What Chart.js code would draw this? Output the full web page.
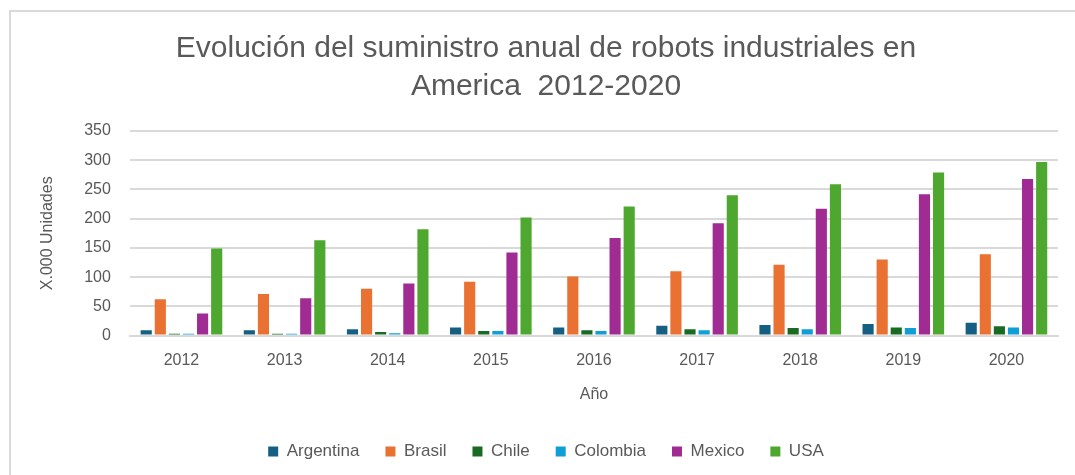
<!DOCTYPE html>
<html>
<head>
<meta charset="utf-8">
<script src="https://cdn.jsdelivr.net/npm/chart.js@4/dist/chart.umd.min.js"></script>
<style>
  html, body { margin: 0; padding: 0; background: #fff; }
  #wrap { position: relative; width: 1075px; height: 475px; }
  #frame { position: absolute; left: 9px; top: 10px; width: 1080px; height: 480px;
           border-left: 2px solid #d9d9d9; border-top: 2px solid #d9d9d9; }
  canvas { position: absolute; left: 0; top: 0; }
</style>
</head>
<body>
<div id="wrap">
  <div id="frame"></div>
  <canvas id="chart" width="1075" height="475"></canvas>
</div>
<script>
// ----------------- Data -----------------
const years = ['2012', '2013', '2014', '2015', '2016', '2017', '2018', '2019', '2020'];
const argentina = [9, 9, 11, 14, 14, 17, 18, 20, 22];
const brasil = [62, 71, 80, 92, 101, 110, 121, 130, 139];
const chile = [3, 3, 6, 8, 9, 11, 13, 14, 16];
const colombia = [3, 3, 4, 8, 8, 9, 11, 13, 14];
const mexico = [38, 64, 89, 142, 167, 192, 217, 242, 268];
const usa = [149, 163, 182, 202, 221, 240, 259, 279, 297];
const yTicks = [0, 50, 100, 150, 200, 250, 300, 350];

const grey = '#595959';
const font = "'Liberation Sans', Arial, sans-serif";

function series(label, data, color) {
  return {
    label, data,
    backgroundColor: color,
    borderWidth: 0,
    barPercentage: 0.79,
    categoryPercentage: 0.82
  };
}

// ----------------- Chart -----------------
const ctx = document.getElementById('chart').getContext('2d');
new Chart(ctx, {
  type: 'bar',
  data: {
    labels: years,
    datasets: [
      series('Argentina', argentina, '#156082'),
      series('Brasil', brasil, '#e97132'),
      series('Chile', chile, '#196b24'),
      series('Colombia', colombia, '#0f9ed5'),
      series('Mexico', mexico, '#a02b93'),
      series('USA', usa, '#4ea72e')
    ]
  },
  options: {
    responsive: false,
    animation: false,
    layout: { padding: { left: 34, right: 17, top: 30, bottom: 5 } },
    plugins: {
      title: {
        display: true,
        text: ['Evolución del suministro anual de robots industriales en', 'America  2012-2020'],
        color: grey,
        font: { family: font, size: 30, weight: 'normal', lineHeight: 1.25 },
        padding: { top: 0, bottom: 26 }
      },
      legend: {
        position: 'bottom',
        labels: {
          color: grey,
          font: { family: font, size: 17 },
          boxWidth: 10, boxHeight: 10,
          padding: 26
        }
      },
      tooltip: { enabled: false }
    },
    scales: {
      x: {
        grid: { display: false, drawTicks: false },
        border: { color: '#d9d9d9', width: 2 },
        ticks: { color: grey, font: { family: font, size: 16 }, padding: 15 },
        title: { display: true, text: 'Año', color: grey, font: { family: font, size: 16 }, padding: { top: 0, bottom: 13 } }
      },
      y: {
        min: 0, max: 350,
        afterBuildTicks: s => { s.ticks = yTicks.map(v => ({ value: v })); },
        grid: { color: '#d9d9d9', lineWidth: 2, drawTicks: false },
        border: { display: false },
        ticks: { color: grey, font: { family: font, size: 16 }, padding: 19 },
        title: { display: true, text: 'X.000 Unidades', color: grey, font: { family: font, size: 16 }, padding: { bottom: 8 } }
      }
    }
  }
});
</script>
</body>
</html>
